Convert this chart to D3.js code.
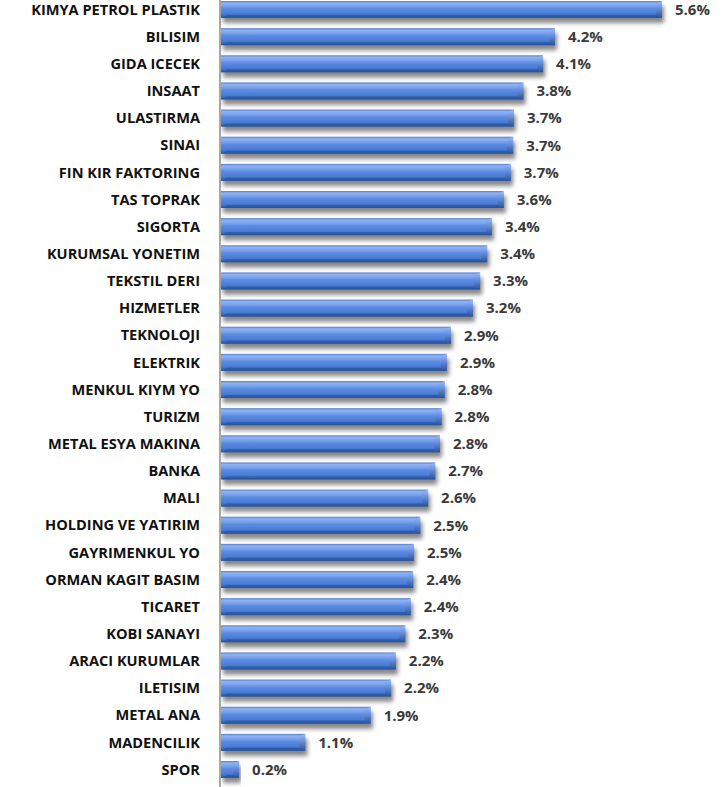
<!DOCTYPE html>
<html>
<head>
<meta charset="utf-8">
<script src="https://cdn.jsdelivr.net/npm/d3@7"></script>
<style>
  body { margin: 0; background: #fff; }
  svg { display: block; }
  text { font-family: "Open Sans", sans-serif; font-weight: 700; }
</style>
</head>
<body>
<div id="wrapper"></div>
<script>
// sector names, top to bottom
const sectors = [
  "KIMYA PETROL PLASTIK", "BILISIM", "GIDA ICECEK", "INSAAT", "ULASTIRMA",
  "SINAI", "FIN KIR FAKTORING", "TAS TOPRAK", "SIGORTA", "KURUMSAL YONETIM",
  "TEKSTIL DERI", "HIZMETLER", "TEKNOLOJI", "ELEKTRIK", "MENKUL KIYM YO",
  "TURIZM", "METAL ESYA MAKINA", "BANKA", "MALI", "HOLDING VE YATIRIM",
  "GAYRIMENKUL YO", "ORMAN KAGIT BASIM", "TICARET", "KOBI SANAYI",
  "ARACI KURUMLAR", "ILETISIM", "METAL ANA", "MADENCILIK", "SPOR"
]
// values in % (labels show 1 decimal)
const shares = [
  5.60, 4.24, 4.09, 3.84, 3.72,
  3.71, 3.68, 3.59, 3.44, 3.38,
  3.29, 3.20, 2.92, 2.87, 2.84,
  2.80, 2.78, 2.72, 2.63, 2.53,
  2.45, 2.44, 2.41, 2.34,
  2.22, 2.16, 1.90, 1.07, 0.23
]

const data = sectors.map((name, i) => ({name, value: shares[i]}))

const dimensions = {width: 724, height: 787, axisX: 220}

const svg = d3.select("#wrapper")
  .append("svg")
    .attr("width", dimensions.width)
    .attr("height", dimensions.height)

// gradients + shadow
const defs = svg.append("defs")
const grad = defs.append("linearGradient")
    .attr("id", "barGrad")
    .attr("x1", 0).attr("y1", 0).attr("x2", 0).attr("y2", 1)
const stops = [
  [0, "#4f7fd6"], [0.12, "#8fb2f2"], [0.3, "#7aa2ec"], [0.45, "#5b8ce2"],
  [0.75, "#4a7cd6"], [0.9, "#3866bd"], [1, "#27508f"]
]
grad.selectAll("stop").data(stops).join("stop")
    .attr("offset", d => d[0])
    .attr("stop-color", d => d[1])

const capGrad = defs.append("linearGradient")
    .attr("id", "capGrad")
    .attr("x1", 0).attr("y1", 0).attr("x2", 0).attr("y2", 1)
capGrad.selectAll("stop").data([[0, "#9dbdf5"], [0.35, "#6f98e4"], [1, "#2b5296"]]).join("stop")
    .attr("offset", d => d[0])
    .attr("stop-color", d => d[1])

const shadow = defs.append("filter")
    .attr("id", "shadow")
    .attr("x", "-5%").attr("y", "-30%").attr("width", "115%").attr("height", "190%")
shadow.append("feGaussianBlur").attr("in", "SourceAlpha").attr("stdDeviation", 2).attr("result", "blur")
shadow.append("feOffset").attr("in", "blur").attr("dx", 2).attr("dy", 5).attr("result", "off")
shadow.append("feFlood").attr("flood-color", "#6a6a6a").attr("flood-opacity", 0.8)
shadow.append("feComposite").attr("in2", "off").attr("operator", "in").attr("result", "sh")
const merge = shadow.append("feMerge")
merge.append("feMergeNode").attr("in", "sh")
merge.append("feMergeNode").attr("in", "SourceGraphic")

// scales
const xScale = d3.scaleLinear()
    .domain([0, 5.6])
    .range([dimensions.axisX + 1, 662])

const yScale = d3.scaleBand()
    .domain(sectors)
    .range([1, 778])
    .paddingInner(0.374)
    .paddingOuter(0)

const bh = yScale.bandwidth()

// bars
const bars = svg.append("g")
  .selectAll("g")
  .data(data)
  .join("g")
    .attr("transform", d => `translate(${xScale(0)},${yScale(d.name)})`)
    .attr("filter", "url(#shadow)")

bars.append("rect")
    .attr("width", d => xScale(d.value) - xScale(0))
    .attr("height", bh)
    .attr("fill", "url(#barGrad)")

// right bevel
bars.append("path")
    .attr("d", d => {
      const w = xScale(d.value) - xScale(0)
      const c = Math.min(6, w / 3)
      return `M${w - c},${3}L${w},0L${w},${bh}L${w - c},${bh - 3}Z`
    })
    .attr("fill", "url(#capGrad)")
bars.append("path")
    .attr("d", d => {
      const w = xScale(d.value) - xScale(0)
      const c = Math.min(6, w / 3)
      return `M${w - c},${bh - 3}L${w},${bh}L0,${bh}L${c},${bh - 3}Z`
    })
    .attr("fill", "#2c5598")
    .attr("opacity", 0.7)

// axis line
svg.append("line")
    .attr("x1", dimensions.axisX).attr("x2", dimensions.axisX)
    .attr("y1", 0).attr("y2", dimensions.height)
    .attr("stroke", "#8a8a8a")
    .attr("stroke-width", 1.5)

// category labels
svg.append("g")
  .selectAll("text")
  .data(data)
  .join("text")
    .attr("x", 200)
    .attr("y", d => yScale(d.name) + bh / 2)
    .attr("dy", "0.36em")
    .attr("text-anchor", "end")
    .attr("font-size", 14.6)
    .attr("fill", "#111")
    .text(d => d.name)

// value labels
svg.append("g")
  .selectAll("text")
  .data(data)
  .join("text")
    .attr("x", d => xScale(d.value) + 13)
    .attr("y", d => yScale(d.name) + bh / 2)
    .attr("dy", "0.36em")
    .attr("font-size", 15)
    .attr("fill", "#3a3a3a")
    .text(d => d.value.toFixed(1) + "%")
</script>
</body>
</html>
